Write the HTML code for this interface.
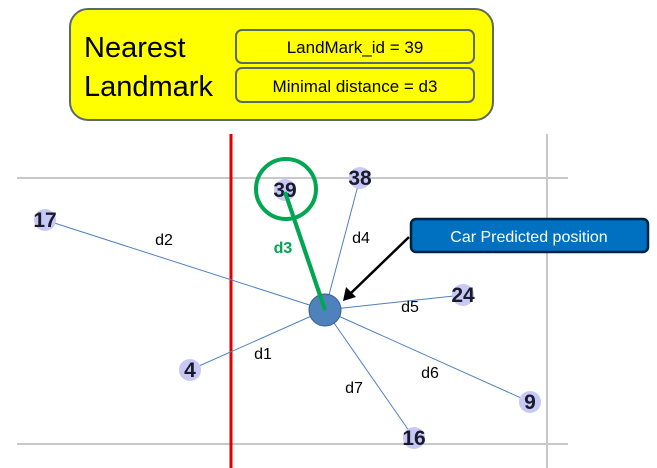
<!DOCTYPE html>
<html><head><meta charset="utf-8"><style>
body{margin:0;background:#fff;width:657px;height:468px;overflow:hidden}
svg{display:block;font-family:"Liberation Sans",sans-serif}
</style></head><body>
<svg id="c" width="657" height="468">
<g>
<rect x="70" y="9" width="423" height="111" rx="18" fill="#ffff00" stroke="#5a6a6a" stroke-width="2"/>
<text x="84" y="57" font-size="29" fill="#000">Nearest</text>
<text x="84" y="96" font-size="29" fill="#000">Landmark</text>
<rect x="236" y="30" width="238" height="33" rx="6" fill="none" stroke="#5a6a6a" stroke-width="2"/>
<text x="355" y="53" font-size="17" text-anchor="middle">LandMark_id = 39</text>
<rect x="236" y="68" width="238" height="34" rx="6" fill="none" stroke="#5a6a6a" stroke-width="2"/>
<text x="355" y="92" font-size="17" text-anchor="middle">Minimal distance = d3</text>
</g>
<line x1="17" y1="178" x2="568" y2="178" stroke="#c8c8c8" stroke-width="2"/>
<line x1="17" y1="444" x2="568" y2="444" stroke="#c8c8c8" stroke-width="2"/>
<line x1="547" y1="134" x2="547" y2="468" stroke="#c8c8c8" stroke-width="2"/>
<line x1="231" y1="134" x2="231" y2="468" stroke="#e00000" stroke-width="3"/>
<g id="marks"></g>
<g>
<line x1="409" y1="237" x2="350" y2="294" stroke="#000" stroke-width="2.5"/>
<polygon points="343,301 346,287 356,297" fill="#000"/>
<rect x="411" y="219" width="237" height="33" rx="5" fill="#0070c0" stroke="#00203f" stroke-width="2.5"/>
<text x="529" y="242" font-size="16" fill="#fff" text-anchor="middle">Car Predicted position</text>
</g>
</svg>
<script>
const landmarkIds=["17","39","38","24","4","9","16"];
const landmarkX=[45,285,360,463,190,530,414];
const landmarkY=[220,190,178,295,370,402,438];
const distLabels=["d2","d3","d4","d5","d1","d6","d7"];
const labelX=[164,283,361,410,263,430,354];
const labelY=[245,253,243,312,359,378,393];
const carX=325, carY=310;
const nearestIndex=1;
const NS="http://www.w3.org/2000/svg";
const g=document.getElementById('marks');
function mk(t,a){const e=document.createElementNS(NS,t);for(const k in a)e.setAttribute(k,a[k]);g.appendChild(e);return e;}
landmarkIds.forEach((id,i)=>{
  const near=i===nearestIndex;
  const l=mk('line',{x1:carX,y1:carY,x2:landmarkX[i],y2:landmarkY[i]+(near?2:0),stroke:near?'#00a651':'#4f81bd','stroke-width':near?4:1});
  
  
});
landmarkIds.forEach((id,i)=>{
  const c=mk('circle',{cx:landmarkX[i],cy:landmarkY[i],r:11,fill:'#c8c8f5'});
  
  
  const t=mk('text',{x:landmarkX[i],y:landmarkY[i]+7,'font-size':21,'font-weight':'bold','text-anchor':'middle',fill:'#1a1a2e','font-family':'"Liberation Sans Narrow","Liberation Sans",sans-serif'});
  t.textContent=id;
  
  
  const d=mk('text',{x:labelX[i],y:labelY[i],'font-size':16,'text-anchor':'middle',fill:i===nearestIndex?'#00a651':'#000','font-weight':i===nearestIndex?'bold':'normal'});
  d.textContent=distLabels[i];
  
  
});
const ring=mk('circle',{cx:286,cy:189,r:30,fill:'none',stroke:'#00a651','stroke-width':4});


const car=mk('ellipse',{cx:carX,cy:carY,rx:16,ry:16,fill:'#4f81bd',stroke:'#385d8a','stroke-width':1});


const g2=mk('line',{x1:carX,y1:carY,x2:landmarkX[nearestIndex],y2:landmarkY[nearestIndex]+2,stroke:'#00a651','stroke-width':4});


</script>
</body></html>
